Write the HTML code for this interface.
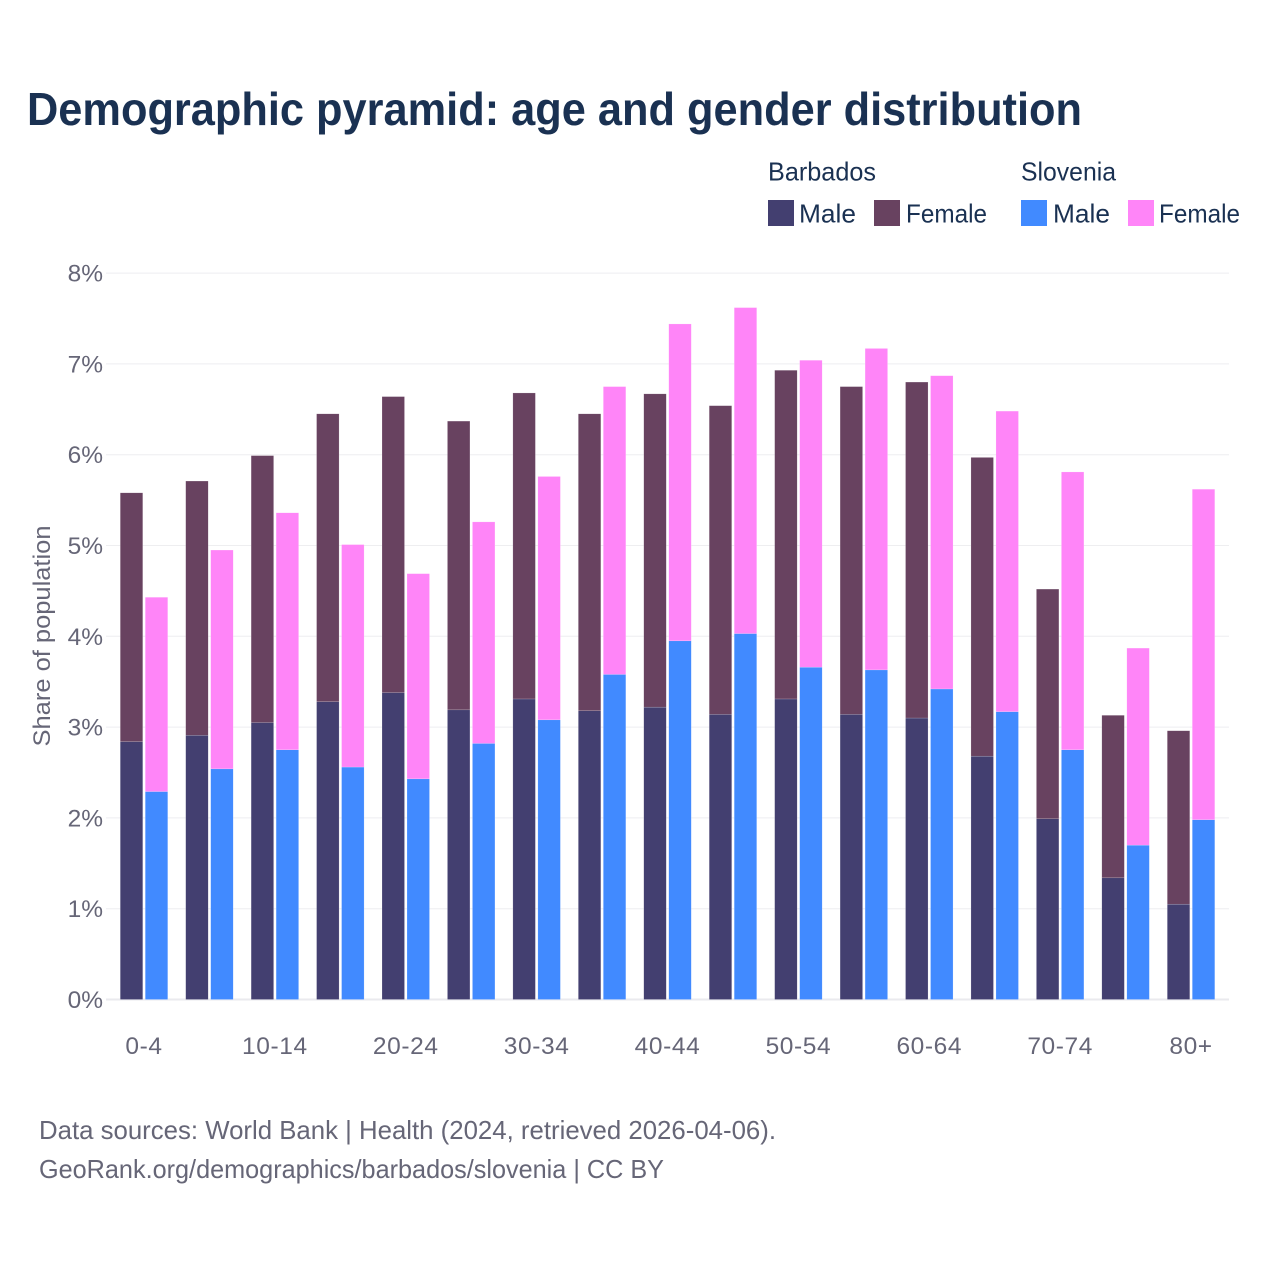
<!DOCTYPE html>
<html lang="en">
<head>
<meta charset="utf-8">
<title>Demographic pyramid</title>
<style>
html,body{margin:0;padding:0;background:#fff;}
svg{display:block;font-family:"Liberation Sans",sans-serif;}
</style>
</head>
<body>
<svg id="chart" width="1280" height="1280" viewBox="0 0 1280 1280" xmlns="http://www.w3.org/2000/svg">
<rect x="0" y="0" width="1280" height="1280" fill="#ffffff"/>
<text x="27" y="125" font-size="46" font-weight="700" fill="#1a3152" textLength="1055" lengthAdjust="spacingAndGlyphs">Demographic pyramid: age and gender distribution</text>
<g id="grid"></g>
<g id="bars"></g>
<g id="yticks"></g>
<g id="xticks"></g>
<text transform="translate(50,746.5) rotate(-90)" font-size="24" fill="#666677" textLength="221" lengthAdjust="spacingAndGlyphs">Share of population</text>
<g font-size="26" fill="#1a3152">
<text x="768" y="180.5" textLength="108" lengthAdjust="spacingAndGlyphs">Barbados</text>
<text x="1021" y="180.5" textLength="95" lengthAdjust="spacingAndGlyphs">Slovenia</text>
<rect x="768" y="200" width="26" height="26" fill="#433f70"/>
<text x="799" y="222.5" textLength="57" lengthAdjust="spacingAndGlyphs">Male</text>
<rect x="874" y="200" width="26" height="26" fill="#684260"/>
<text x="906" y="222.5" textLength="81" lengthAdjust="spacingAndGlyphs">Female</text>
<rect x="1021" y="200" width="26" height="26" fill="#418aff"/>
<text x="1053" y="222.5" textLength="57" lengthAdjust="spacingAndGlyphs">Male</text>
<rect x="1128" y="200" width="26" height="26" fill="#ff85f8"/>
<text x="1159" y="222.5" textLength="81" lengthAdjust="spacingAndGlyphs">Female</text>
</g>
<g font-size="26" fill="#666677">
<text x="39" y="1139" textLength="737" lengthAdjust="spacingAndGlyphs">Data sources: World Bank | Health (2024, retrieved 2026-04-06).</text>
<text x="39" y="1178" textLength="625" lengthAdjust="spacingAndGlyphs">GeoRank.org/demographics/barbados/slovenia | CC BY</text>
</g>
</svg>
<script>
const categories = ["0-4","5-9","10-14","15-19","20-24","25-29","30-34","35-39","40-44","45-49","50-54","55-59","60-64","65-69","70-74","75-79","80+"];
const xTickLabels = ["0-4","","10-14","","20-24","","30-34","","40-44","","50-54","","60-64","","70-74","","80+"];
const yTickValues = [0,1,2,3,4,5,6,7,8];
const barbadosMale = [2.84,2.91,3.05,3.28,3.38,3.19,3.31,3.18,3.22,3.14,3.31,3.14,3.10,2.68,1.99,1.34,1.05];
const barbadosFemale = [2.74,2.80,2.94,3.17,3.26,3.18,3.37,3.27,3.45,3.40,3.62,3.61,3.70,3.29,2.53,1.79,1.91];
const sloveniaMale = [2.29,2.54,2.75,2.56,2.43,2.82,3.08,3.58,3.95,4.03,3.66,3.63,3.42,3.17,2.75,1.70,1.98];
const sloveniaFemale = [2.14,2.41,2.61,2.45,2.26,2.44,2.68,3.17,3.49,3.59,3.38,3.54,3.45,3.31,3.06,2.17,3.64];

const NS = "http://www.w3.org/2000/svg";
const y0 = 999.5, pxPerUnit = 90.8;
const xStart = 144, xStep = 65.44, barW = 22.5, barGap = 2.5;
const yScale = function (v) { return y0 - v * pxPerUnit; };
const xScale = function (i) { return xStart + i * xStep; };
function make(tag, parent) {
  const el = document.createElementNS(NS, tag);
  parent.appendChild(el);
  return el;
}
const gridG = document.getElementById("grid");
const yG = document.getElementById("yticks");
yTickValues.forEach(function (v) {
  const line = make("line", gridG);
  
  
  line.setAttribute("x1", 106);
  line.setAttribute("x2", 1229);
  line.setAttribute("y1", yScale(v));
  line.setAttribute("y2", yScale(v));
  line.setAttribute("stroke", v === 0 ? "#eaeaee" : "#eeeef0");
  line.setAttribute("stroke-width", v === 0 ? 2 : 1);
  const t = make("text", yG);
  
  
  t.setAttribute("x", 103);
  t.setAttribute("y", yScale(v) + 8.5);
  t.setAttribute("text-anchor", "end");
  t.setAttribute("font-size", 24.5);
  t.setAttribute("fill", "#666677");
  t.textContent = v + "%";
});
const barsG = document.getElementById("bars");
function bar(x, base, value, fill) {
  const r = make("rect", barsG);
  
  
  r.setAttribute("x", x);
  r.setAttribute("y", yScale(base + value));
  r.setAttribute("width", barW);
  r.setAttribute("height", value * pxPerUnit);
  r.setAttribute("fill", fill);
  r.setAttribute("stroke", "#ffffff");
  r.setAttribute("stroke-opacity", "0.4");
  r.setAttribute("stroke-width", "0.4");
}
const xG = document.getElementById("xticks");
categories.forEach(function (c, i) {
  const cx = xScale(i);
  const left = cx - barW - barGap / 2;
  const right = cx + barGap / 2;
  bar(left, 0, barbadosMale[i], "#433f70");
  bar(left, barbadosMale[i], barbadosFemale[i], "#684260");
  bar(right, 0, sloveniaMale[i], "#418aff");
  bar(right, sloveniaMale[i], sloveniaFemale[i], "#ff85f8");
  if (xTickLabels[i]) {
    const t = make("text", xG);
    
    
    t.setAttribute("x", cx);
    t.setAttribute("y", 1054);
    t.setAttribute("text-anchor", "middle");
    t.setAttribute("font-size", 24.5);
    t.setAttribute("letter-spacing", "0.6");
    t.setAttribute("fill", "#666677");
    t.textContent = xTickLabels[i];
  }
});
</script>
</body>
</html>
